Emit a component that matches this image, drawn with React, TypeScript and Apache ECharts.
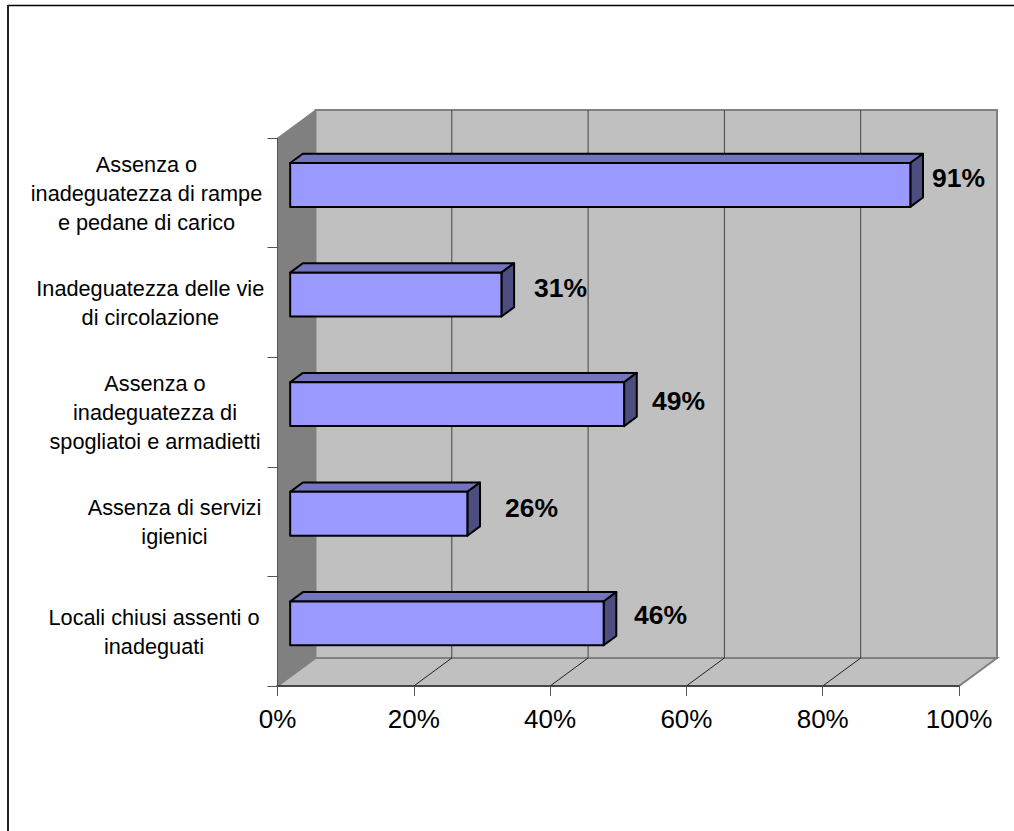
import React, { useEffect, useRef } from "react";
import * as echarts from "echarts";

const categories = [
  "Assenza o\ninadeguatezza di rampe\ne pedane di carico",
  "Inadeguatezza delle vie\ndi circolazione",
  "Assenza o\ninadeguatezza di\nspogliatoi e armadietti",
  "Assenza di servizi\nigienici",
  "Locali chiusi assenti o\ninadeguati",
];
const values = [91, 31, 49, 26, 46];
const gridTicks = [0, 20, 40, 60, 80, 100];
const categoryOffset = [131, 127.2, 122.5, 103, 123.5];
const labelDx = [21.7, 32.6, 28, 37.6, 30.3];
const labelDy = [-7, -6.6, -3.5, -5.8, -8.4];

const DX = 38;
const DY = -28;
const BAR_SHIFT = 1.5;
const FONT = "'Liberation Sans', Arial, sans-serif";

export default function App() {
  const ref = useRef<HTMLDivElement>(null);
  useEffect(() => {
    const chart = echarts.init(ref.current!, undefined, { renderer: "svg" });
    chart.setOption({
      animation: false,
      backgroundColor: "#fff",
      grid: { left: 277.5, top: 138, width: 681.5, height: 548, outerBoundsMode: "none" },
      xAxis: {
        type: "value",
        min: 0,
        max: 100,
        interval: 20,
        z: 5,
        axisLine: { show: true, lineStyle: { color: "#333", width: 1.5 } },
        axisTick: { show: true, length: 10, lineStyle: { color: "#555", width: 1 } },
        splitLine: { show: false },
        axisLabel: {
          formatter: "{value}%",
          fontFamily: FONT,
          fontSize: 26,
          color: "#000",
          margin: 20,
          hideOverlap: false,
          showMinLabel: true,
          showMaxLabel: true,
        },
      },
      yAxis: {
        type: "category",
        inverse: true,
        data: categories,
        z: 5,
        axisLine: { show: true, lineStyle: { color: "#555", width: 1 } },
        axisTick: { show: true, length: 10, alignWithLabel: false, lineStyle: { color: "#555", width: 1 } },
        axisLabel: { show: false },
      },
      graphic: [
        { type: "line", shape: { x1: 8, y1: 5.5, x2: 1014, y2: 5.5 }, style: { stroke: "#000", lineWidth: 1.5 } },
        { type: "line", shape: { x1: 8, y1: 5, x2: 8, y2: 831 }, style: { stroke: "#222", lineWidth: 2 } },
      ],
      series: [
        {
          type: "custom",
          z: 1,
          silent: true,
          data: [[0, 0]],
          encode: { x: 0, y: 1 },
          renderItem: (params: any) => {
            const { x, y, width: w, height: h } = params.coordSys;
            const gray = "#808080";
            return {
              type: "group",
              children: [
                {
                  type: "rect",
                  shape: { x: x + DX, y: y + DY, width: w, height: h },
                  style: { fill: "#C0C0C0", stroke: gray, lineWidth: 2 },
                },
                {
                  type: "polygon",
                  shape: { points: [[x, y], [x + DX, y + DY], [x + DX, y + h + DY], [x, y + h]] },
                  style: { fill: gray, stroke: gray, lineWidth: 1 },
                },
                {
                  type: "polygon",
                  shape: { points: [[x, y + h], [x + w, y + h], [x + w + DX, y + h + DY], [x + DX, y + h + DY]] },
                  style: { fill: "#C0C0C0", stroke: gray, lineWidth: 2 },
                },
              ],
            };
          },
        },
        {
          type: "custom",
          z: 2,
          silent: true,
          data: gridTicks.slice(1, -1).map((t) => [t, 0]),
          encode: { x: 0, y: 1 },
          renderItem: (params: any, api: any) => {
            const { y, height: h } = params.coordSys;
            const px = api.coord([api.value(0), 0])[0];
            return {
              type: "group",
              children: [
                {
                  type: "line",
                  shape: { x1: px + DX, y1: y + DY, x2: px + DX, y2: y + h + DY },
                  style: { stroke: "#444", lineWidth: 1 },
                },
                {
                  type: "line",
                  shape: { x1: px, y1: y + h, x2: px + DX, y2: y + h + DY },
                  style: { stroke: "#222", lineWidth: 1 },
                },
              ],
            };
          },
        },
        {
          type: "custom",
          z: 3,
          silent: true,
          data: values.map((v, i) => [v, i]),
          encode: { x: 0, y: 1 },
          renderItem: (params: any, api: any) => {
            const v = api.value(0);
            const i = api.value(1);
            const base = api.coord([0, i]);
            const end = api.coord([v, i]);
            const band = api.size([0, 1])[1];
            const t = band * 0.4;
            const ox = DX / 3;
            const oy = DY / 3;
            const x0 = base[0] + ox;
            const x1 = end[0] + ox;
            const y0 = base[1] + oy + BAR_SHIFT - t / 2;
            const y1 = y0 + t;
            const ln = { stroke: "#000", lineWidth: 2, lineJoin: "round" };
            return {
              type: "group",
              children: [
                {
                  type: "polygon",
                  shape: { points: [[x0, y0], [x1, y0], [x1 + ox, y0 + oy], [x0 + ox, y0 + oy]] },
                  style: { fill: "#7373BF", ...ln },
                },
                {
                  type: "polygon",
                  shape: { points: [[x1, y0], [x1 + ox, y0 + oy], [x1 + ox, y1 + oy], [x1, y1]] },
                  style: { fill: "#4D4D80", ...ln },
                },
                {
                  type: "rect",
                  shape: { x: x0, y: y0, width: x1 - x0, height: t },
                  style: { fill: "#9999FF", ...ln },
                },
                {
                  type: "text",
                  style: {
                    text: `${v}%`,
                    x: x1 + labelDx[params.dataIndex],
                    y: (y0 + y1) / 2 + labelDy[params.dataIndex],
                    align: "left",
                    verticalAlign: "middle",
                    fontFamily: FONT,
                    fontWeight: "bold",
                    fontSize: 26.5,
                    fill: "#000",
                  },
                },
                {
                  type: "text",
                  style: {
                    text: categories[params.dataIndex],
                    x: base[0] - categoryOffset[params.dataIndex],
                    y: base[1] + 0.5,
                    align: "center",
                    verticalAlign: "middle",
                    fontFamily: FONT,
                    fontSize: 21.7,
                    lineHeight: 29,
                    fill: "#000",
                  },
                },
              ],
            };
          },
        },
      ],
    });
    return () => chart.dispose();
  }, []);
  return <div ref={ref} style={{ position: "fixed", left: 0, top: 0, width: 1014, height: 831 }} />;
}
